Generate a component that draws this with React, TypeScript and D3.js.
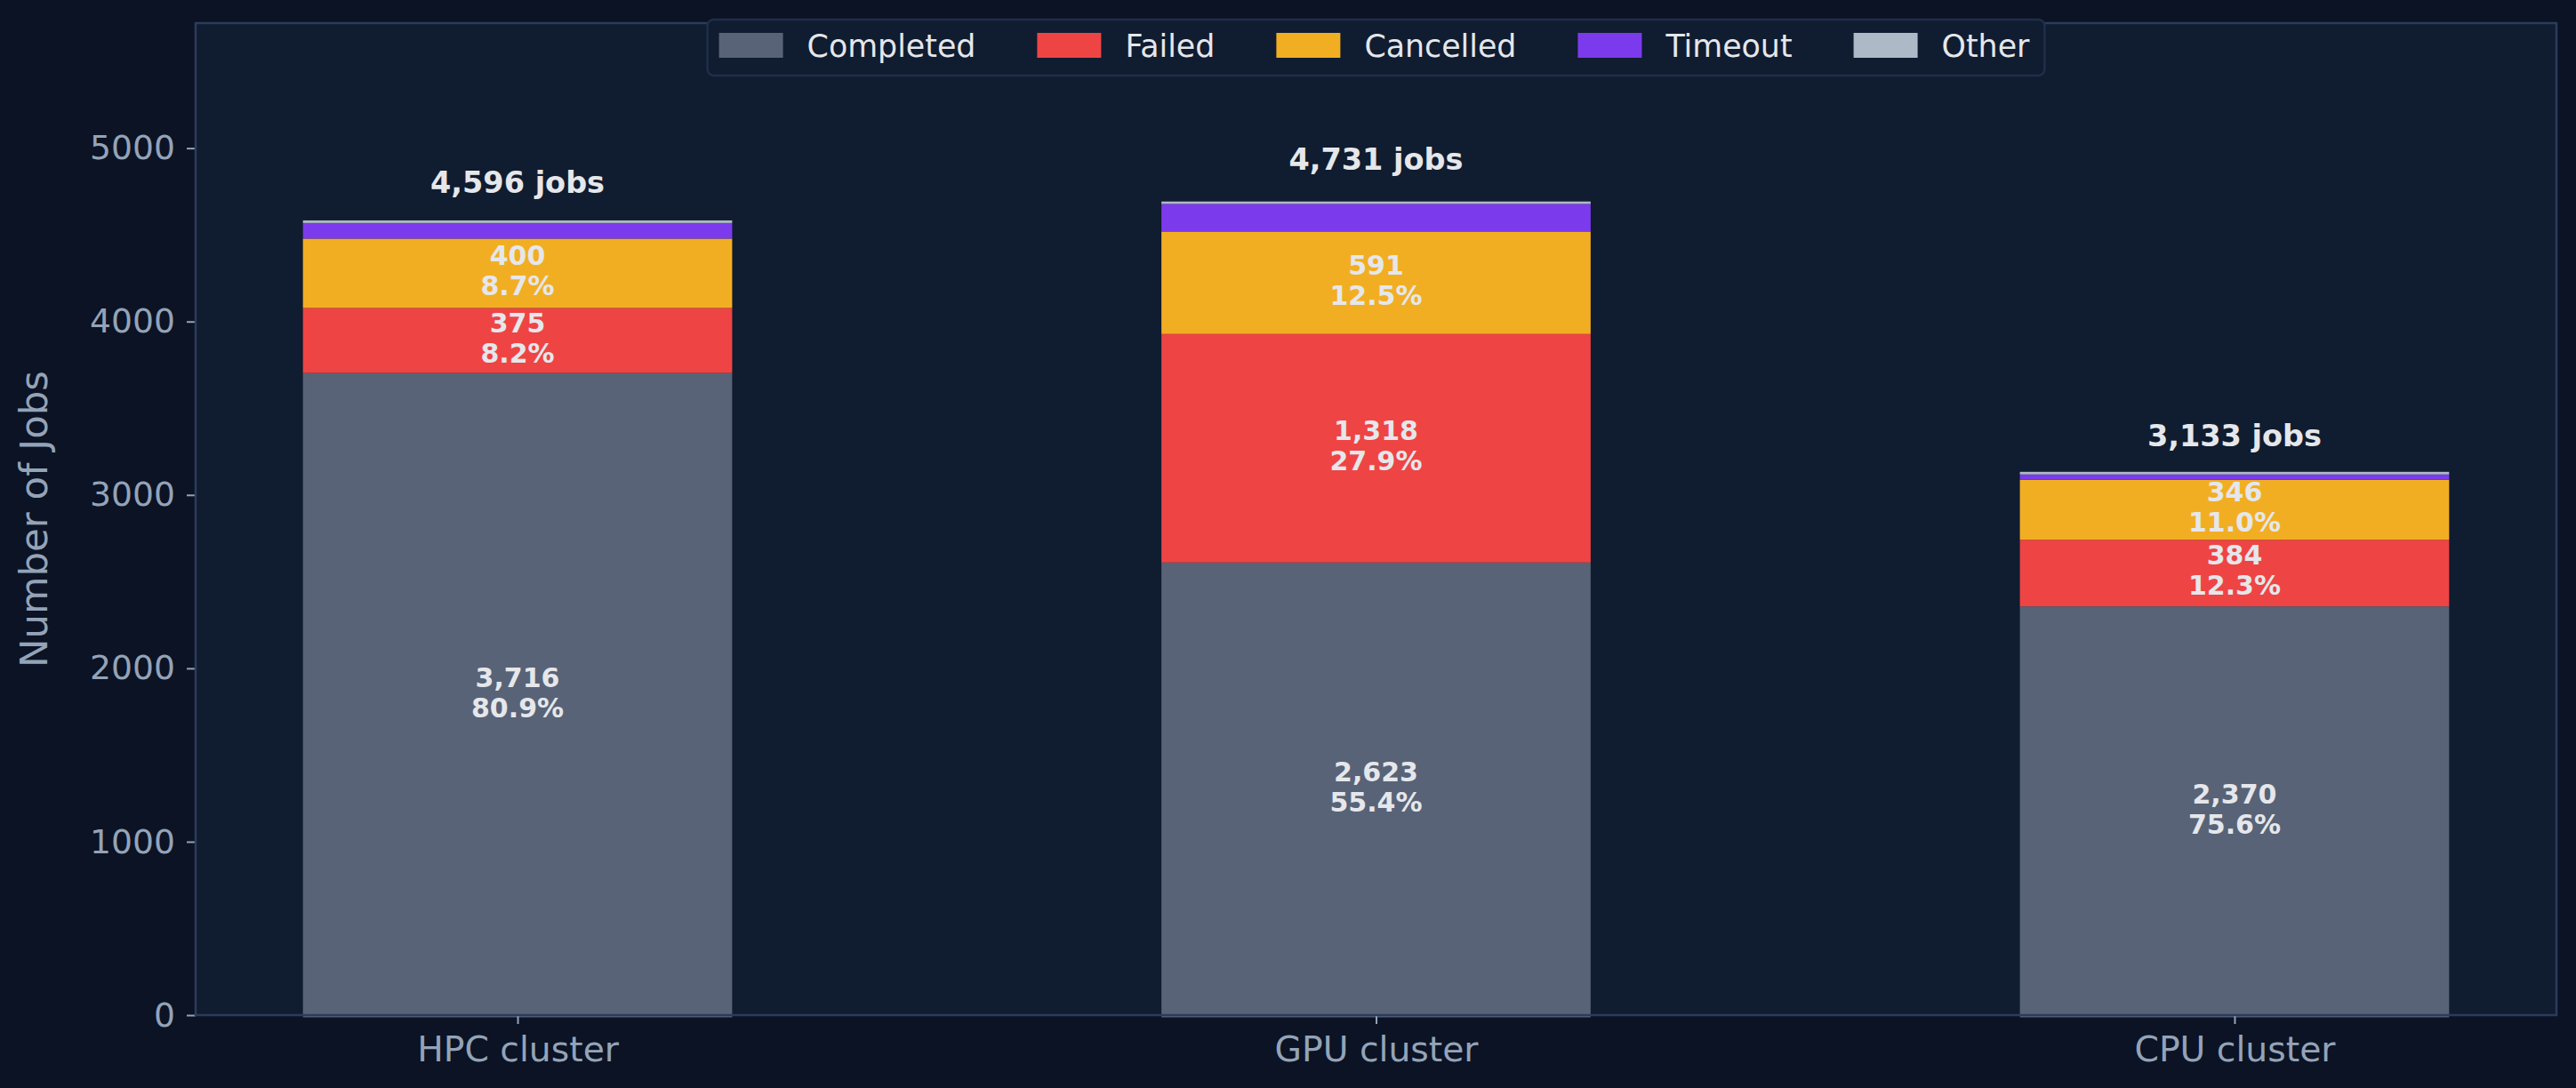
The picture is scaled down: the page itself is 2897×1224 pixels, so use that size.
import React, { useEffect, useRef } from 'react';
import * as d3 from 'd3';

const clusters = ['HPC cluster', 'GPU cluster', 'CPU cluster'];
const statuses = ['Completed', 'Failed', 'Cancelled', 'Timeout', 'Other'];
const completed = [3716, 2623, 2370];
const failed = [375, 1318, 384];
const cancelled = [400, 591, 346];
const timeout = [90, 159, 31];
const other = [15, 14, 15];
// totals printed above bars (also the base for the percentages)
const totalJobs = [4596, 4731, 3133];
const yTicks = [0, 1000, 2000, 3000, 4000, 5000];

const colors: Record<string, string> = {
  Completed: '#586377',
  Failed: '#ef4444',
  Cancelled: '#f2ae23',
  Timeout: '#7c3aed',
  Other: '#aeb9c8',
};

const W = 2897;
const H = 1224;
const FONT = '"DejaVu Sans", sans-serif';

const App: React.FC = () => {
  const svgRef = useRef<SVGSVGElement>(null);

  useEffect(() => {
    if (!svgRef.current) return;

    const rows = clusters.map((c, i) => ({
      cluster: c,
      Completed: completed[i],
      Failed: failed[i],
      Cancelled: cancelled[i],
      Timeout: timeout[i],
      Other: other[i],
    }));

    const left = 220, right = 2875, top = 26, bottom = 1142;

    const svg = d3.select(svgRef.current);
    svg.selectAll('*').remove();

    svg.append('rect').attr('width', W).attr('height', H).attr('fill', '#0b1324');
    svg.append('rect')
      .attr('x', left).attr('y', top)
      .attr('width', right - left).attr('height', bottom - top)
      .attr('fill', '#101c2f');

    const x = d3.scaleLinear().domain([-0.375, 2.375]).range([left, right]);
    const y = d3.scaleLinear().domain([0, 5721]).range([bottom, top]);
    const barW = x(0.5) - x(0);

    const stack = d3.stack<any>().keys(statuses);
    const series = stack(rows);

    // bars sit a hair below the tick grid in the original render
    const g = svg.append('g').attr('transform', 'translate(0,2.5)');
    series.forEach(s => {
      g.selectAll(null)
        .data(s)
        .enter()
        .append('rect')
        .attr('x', (_d, i) => x(i) - barW / 2)
        .attr('y', d => y(d[1]))
        .attr('width', barW)
        .attr('height', d => y(d[0]) - y(d[1]))
        .attr('fill', colors[s.key]);
    });

    // segment labels
    series.forEach(s => {
      s.forEach((d, i) => {
        const v = d[1] - d[0];
        const pct = (v / totalJobs[i]) * 100;
        if (pct < 5) return;
        const mid = y((d[0] + d[1]) / 2) - 2.5;
        const t = g.append('text')
          .attr('text-anchor', 'middle')
          .attr('fill', '#e5e7eb')
          .attr('font-family', FONT)
          .attr('font-weight', 'bold')
          .attr('font-size', 30);
        t.append('tspan').attr('x', x(i)).attr('y', mid - 7).text(d3.format(',')(v));
        t.append('tspan').attr('x', x(i)).attr('y', mid + 27).text(pct.toFixed(1) + '%');
      });
    });

    // totals
    totalJobs.forEach((tot, i) => {
      g.append('text')
        .attr('x', x(i))
        .attr('y', y(tot) - 31)
        .attr('text-anchor', 'middle')
        .attr('fill', '#e5e7eb')
        .attr('font-family', FONT)
        .attr('font-weight', 'bold')
        .attr('font-size', 33.5)
        .text(`${d3.format(',')(tot)} jobs`);
    });

    // axes
    const tickColor = '#94a3b8';
    const yAxis = svg.append('g')
      .attr('transform', `translate(${left},0)`)
      .call(d3.axisLeft(y).tickValues(yTicks).tickFormat(d3.format('d')).tickSizeOuter(0).tickSize(10).tickPadding(13));
    const xAxis = svg.append('g')
      .attr('transform', `translate(0,${bottom})`)
      .call(d3.axisBottom(x).tickValues([0, 1, 2]).tickFormat((d: any) => clusters[d]).tickSizeOuter(0).tickSize(10).tickPadding(14));
    [yAxis, xAxis].forEach(ax => {
      ax.select('.domain').remove();
      ax.selectAll('.tick line').attr('stroke', tickColor).attr('stroke-width', 2);
      ax.selectAll('.tick text')
        .attr('fill', tickColor)
        .attr('font-family', FONT);
    });
    yAxis.selectAll('.tick text').attr('font-size', 37.7);
    xAxis.selectAll('.tick text').attr('font-size', 39.3);

    // spines
    svg.append('rect')
      .attr('x', left).attr('y', top)
      .attr('width', right - left).attr('height', bottom - top)
      .attr('fill', 'none')
      .attr('stroke', '#2a3c5e')
      .attr('stroke-width', 2.5);

    svg.append('text')
      .attr('transform', `translate(53,${(top + bottom) / 2}) rotate(-90)`)
      .attr('text-anchor', 'middle')
      .attr('fill', tickColor)
      .attr('font-family', FONT)
      .attr('font-size', 43.5)
      .text('Number of Jobs');

    // legend
    const lg = svg.append('g');
    const box = lg.append('rect');
    const patchW = 72, patchH = 28, textPad = 27, colSpace = 69, padL = 13, padR = 17;
    let cx = 0;
    const items: { x: number; key: string; node: any }[] = [];
    statuses.forEach(k => {
      const txt = lg.append('text')
        .attr('fill', '#e5e7eb')
        .attr('font-family', FONT)
        .attr('font-size', 34.8)
        .attr('y', 64)
        .text(k);
      const w = (txt.node() as SVGTextElement).getComputedTextLength();
      items.push({ x: cx, key: k, node: txt });
      cx += patchW + textPad + w + colSpace;
    });
    const inner = cx - colSpace;
    const boxW = padL + inner + padR;
    const boxX = (left + right) / 2 - boxW / 2;
    box.attr('x', boxX).attr('y', 22).attr('width', boxW).attr('height', 63)
      .attr('rx', 7)
      .attr('fill', '#101c30')
      .attr('stroke', '#1f2e4b')
      .attr('stroke-width', 2.5);
    items.forEach(it => {
      const px = boxX + padL + it.x;
      lg.append('rect')
        .attr('x', px).attr('y', 37)
        .attr('width', patchW).attr('height', patchH)
        .attr('fill', colors[it.key]);
      it.node.attr('x', px + patchW + textPad);
    });
  }, []);

  return (
    <svg
      ref={svgRef}
      width={W}
      height={H}
      style={{ position: 'fixed', left: 0, top: 0, display: 'block' }}
    />
  );
};

export default App;
